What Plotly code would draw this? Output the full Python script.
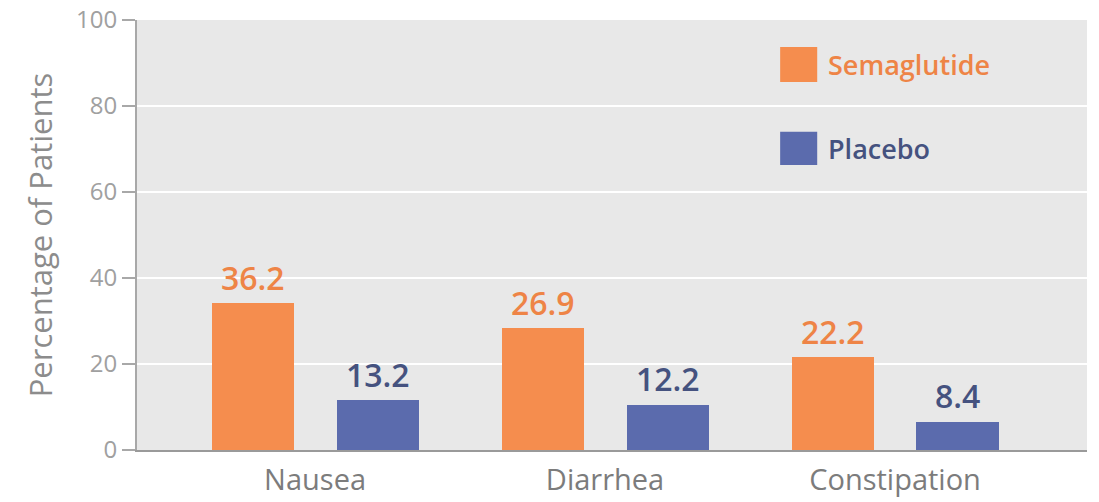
import plotly.graph_objects as go

categories = ["Nausea", "Diarrhea", "Constipation"]
semaglutide_bar = [34.1, 28.3, 21.6]
placebo_bar = [11.6, 10.5, 6.6]
semaglutide_labels = ["36.2", "26.9", "22.2"]
placebo_labels = ["13.2", "12.2", "8.4"]
y_ticks = [0, 20, 40, 60, 80, 100]
series_names = ["Semaglutide", "Placebo"]

ORANGE = "#F58D4E"
BLUE = "#5B6BAD"
ORANGE_TXT = "#EE8446"
BLUE_TXT = "#45527F"
FONT = "Open Sans"

x_idx = list(range(len(categories)))
bar_w = 0.283
off_s = -0.357
off_p = 0.074

fig = go.Figure()
fig.add_trace(go.Bar(x=x_idx, y=semaglutide_bar, width=bar_w, offset=off_s,
                     marker=dict(color=ORANGE, line=dict(width=0)), name=series_names[0],
                     showlegend=False, hoverinfo="skip"))
fig.add_trace(go.Bar(x=x_idx, y=placebo_bar, width=bar_w, offset=off_p,
                     marker=dict(color=BLUE, line=dict(width=0)), name=series_names[1],
                     showlegend=False, hoverinfo="skip"))

annotations = []
for i in x_idx:
    annotations.append(dict(x=i + off_s + bar_w / 2, y=semaglutide_bar[i], xref="x", yref="y",
                            text=semaglutide_labels[i], showarrow=False, yanchor="middle", yshift=26,
                            font=dict(family=FONT, size=32, color=ORANGE_TXT, weight=600)))
    annotations.append(dict(x=i + off_p + bar_w / 2, y=placebo_bar[i], xref="x", yref="y",
                            text=placebo_labels[i], showarrow=False, yanchor="middle", yshift=26,
                            font=dict(family=FONT, size=32, color=BLUE_TXT, weight=600)))

# legend (drawn inside plot)
legend_items = [(series_names[0], ORANGE, ORANGE_TXT, 0.937, 0.856),
                (series_names[1], BLUE, BLUE_TXT, 0.740, 0.663)]
shapes = []
for name, col, tcol, y1, y0 in legend_items:
    shapes.append(dict(type="rect", xref="paper", yref="paper", x0=0.677, x1=0.716, y0=y0, y1=y1,
                       fillcolor=col, line=dict(width=0)))
    annotations.append(dict(x=0.725, y=(y0 + y1) / 2, xref="paper", yref="paper", text=name,
                            showarrow=False, xanchor="left", yanchor="middle",
                            font=dict(family=FONT, size=27, color=tcol, weight=600)))

fig.update_layout(
    width=1099, height=502, autosize=False,
    margin=dict(l=137, r=12, t=20, b=52),
    paper_bgcolor="white", plot_bgcolor="#E8E8E8",
    font=dict(family=FONT),
    shapes=shapes, annotations=annotations,
    bargap=0,
)
fig.update_xaxes(range=[-0.614, 2.662], tickvals=x_idx, ticktext=categories,
                 showgrid=False, zeroline=False, showline=True, linecolor="#9A9A9A", linewidth=2,
                 ticks="", ticklabelstandoff=3, automargin=False,
                 tickfont=dict(family=FONT, size=29, color="#7C7C7C"))
fig.update_yaxes(range=[0, 100], tickvals=y_ticks, showgrid=True, gridcolor="white", gridwidth=2,
                 zeroline=False, showline=True, linecolor="#A8A8A8", linewidth=2,
                 ticks="outside", ticklen=13, tickwidth=2, tickcolor="#A8A8A8", automargin=False,
                 tickfont=dict(family=FONT, size=24, color="#A0A0A0"),
                 title=dict(text="Percentage of Patients", standoff=14,
                            font=dict(family=FONT, size=31, color="#8C8C8C")))

fig.write_html("out.html")
